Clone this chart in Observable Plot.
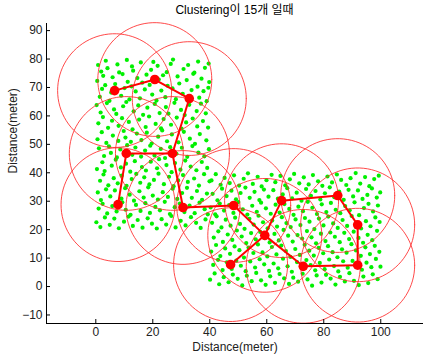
<!DOCTYPE html>
<html><head><meta charset="utf-8">
<script src="https://cdn.jsdelivr.net/npm/d3@7"></script>
<script src="https://cdn.jsdelivr.net/npm/@observablehq/plot@0.6"></script>
<style>
body{margin:0;background:#fff}
#c{position:relative;width:423px;height:358px}
#t{position:absolute;top:3px;left:46px;width:377px;text-align:center;font:12px "Liberation Sans","Noto Sans CJK KR",sans-serif;color:#000;line-height:14px}
#c svg{position:absolute;left:0;top:0}
</style>
</head><body><div id="c"><div id="t">Clustering이 15개 일때</div></div>
<script>
const chartTitle = "Clustering이 15개 일때";
const xLabel = "Distance(meter)";
const yLabel = "Distance(meter)";
const xTicks = [0, 20, 40, 60, 80, 100];
const yTicks = [-10, 0, 10, 20, 30, 40, 50, 60, 70, 80, 90];

// sensor nodes, upper-left field
const upperNodes = [
[0.8,77.9],[1.9,75.6],[3.5,79.4],[4.1,76.8],[7.6,78.1],[8.2,75.3],[10.9,79.7],[12.7,77.4],[13.1,75.9],[15.8,78.8],[19.4,76.2],[20.2,79.0],[21.7,77.6],[24.9,75.4],[26.3,78.3],[27.1,79.8],[30.8,76.5],[32.4,77.9],[34.6,75.2],[35.9,79.1],[38.3,76.9],[39.6,78.4],
[0.5,72.3],[2.6,74.1],[3.3,70.8],[5.9,73.6],[6.8,71.2],[9.4,74.7],[11.2,72.0],[12.5,70.4],[14.6,73.3],[16.3,71.7],[17.8,74.5],[18.9,70.9],[22.1,72.8],[23.6,74.3],[25.2,70.6],[28.7,73.9],[29.3,71.4],[31.9,72.6],[34.2,74.8],[35.7,70.3],[37.1,73.1],[39.8,71.9],
[1.4,66.7],[2.2,69.5],[4.8,65.3],[5.4,68.2],[8.9,67.1],[10.1,69.8],[11.8,65.8],[14.0,68.6],[15.5,66.2],[17.2,69.3],[19.8,67.5],[21.3,65.4],[23.0,68.9],[24.4,66.6],[26.9,69.7],[28.1,65.9],[30.5,67.8],[33.6,69.1],[36.3,66.4],[37.8,68.7],[38.9,65.2],[39.5,69.9],
[0.3,63.8],[1.7,61.2],[3.9,64.5],[6.4,62.3],[7.2,60.7],[9.6,63.4],[10.7,64.9],[13.3,61.6],[14.9,63.7],[16.6,60.4],[18.1,62.9],[20.7,64.2],[22.4,61.0],[24.6,63.1],[25.5,60.8],[27.6,64.6],[29.9,62.1],[31.2,60.3],[32.8,63.9],[35.4,61.7],[36.9,64.3],[38.6,60.9],
[0.9,57.4],[2.5,59.6],[4.3,55.8],[5.7,58.3],[8.0,56.5],[9.2,59.2],[11.6,57.9],[12.9,55.3],[15.2,58.7],[17.5,56.1],[18.7,59.8],[21.0,57.2],[22.9,55.6],[23.8,58.9],[26.4,56.9],[28.4,59.4],[30.1,55.5],[31.7,57.7],[34.0,59.1],[35.6,56.3],[37.6,58.2],[39.4,55.9],
[0.6,51.8],[2.1,54.3],[3.7,50.5],[6.0,53.1],[7.9,51.2],[9.8,54.7],[10.4,52.4],[12.3,50.9],[14.4,53.8],[16.0,51.5],[17.9,54.1],[19.6,50.3],[21.9,52.7],[23.3,54.9],[25.0,51.1],[26.7,53.5],[29.0,50.7],[30.9,54.4],[33.0,52.0],[34.8,50.2],[36.5,53.6],[38.8,51.4],
[1.1,48.6],[2.9,45.9],[4.6,49.3],[5.3,47.0],[7.4,45.4],[8.6,48.2],[11.0,49.7],[12.8,46.3],[13.9,48.9],[15.9,45.7],[17.3,47.8],[19.1,49.5],[20.6,46.1],[22.8,48.4],[24.3,45.2],[26.1,49.0],[28.3,46.7],[30.2,48.8],[32.1,45.6],[33.9,49.4],[36.0,47.1],[38.1,45.8],[39.7,48.3],
[0.4,41.3],[2.3,43.7],[3.1,40.6],[5.6,42.5],[7.0,44.6],[8.8,41.9],[10.6,43.2],[12.1,40.4],[13.7,44.1],[16.2,42.0],[17.6,40.8],[19.3,43.9],[21.5,41.6],[22.2,44.8],[24.8,42.7],[26.6,40.2],[27.8,43.4],[29.7,41.1],[31.4,44.3],[33.3,42.2],[35.3,40.9],[37.2,43.8],[39.1,41.7],
[1.5,37.2],[2.7,39.4],[4.4,35.6],[6.3,38.1],[7.7,36.3],[9.1,39.0],[10.8,35.4],[12.6,37.8],[14.2,39.6],[15.6,36.5],[17.0,38.4],[18.8,35.9],[20.4,37.5],[22.0,39.7],[23.9,36.0],[25.7,38.6],[27.3,35.3],[28.9,37.3],[30.6,39.2],[32.3,36.8],[34.5,38.0],[36.2,35.5],[38.0,39.5],[39.9,37.0],
[0.7,33.1],[1.8,30.4],[3.6,34.2],[5.1,31.7],[6.7,33.8],[9.0,30.9],[10.3,34.6],[11.9,32.3],[13.4,30.2],[15.3,33.5],[16.8,31.3],[18.4,34.9],[20.0,32.0],[21.8,30.6],[23.5,33.2],[25.3,31.5],[27.0,34.4],[28.6,30.8],[30.3,32.9],[32.0,34.7],[33.7,31.2],[35.5,33.6],[37.3,30.5],[39.0,32.7],
[1.0,27.4],[2.4,29.1],[4.0,25.7],[5.8,28.3],[7.3,26.4],[9.3,29.6],[10.5,27.0],[12.2,25.2],[14.1,28.7],[15.7,26.6],[17.4,29.3],[19.0,25.9],[20.9,28.0],[22.5,26.8],[24.2,29.8],[26.0,25.5],[27.7,27.9],[29.5,29.2],[31.1,26.2],[32.9,28.5],[34.7,25.8],[36.4,29.5],[38.2,27.2],[39.3,25.4],
[0.2,22.6],[1.6,20.9],[3.2,24.3],[4.9,21.7],[6.5,23.9],[8.1,20.5],[9.9,22.8],[11.5,24.6],[13.0,21.3],[14.7,23.4],[16.4,20.7],[18.2,24.0],[19.7,22.1],[21.4,20.4],[23.1,23.7],[24.7,21.8],[26.5,24.8],[28.0,20.8],[29.8,23.1],[31.5,21.5],[33.4,24.4],[35.2,22.4],[36.8,20.6],[38.5,23.6]
];

// sensor nodes, lower-right field
const lowerNodes = [
[40.6,37.3],[42.1,39.5],[43.8,35.8],[45.2,38.2],[47.0,36.4],[48.5,39.1],[50.3,35.5],[51.9,37.9],[53.4,39.8],[55.1,36.1],[56.8,38.6],[58.2,35.2],[59.9,37.4],[61.7,39.3],[63.0,36.7],[64.8,38.9],[66.5,35.6],[68.1,37.7],[69.6,39.6],[71.4,36.3],[73.0,38.4],[74.7,35.9],[76.2,39.2],[78.0,37.0],[79.5,35.4],[81.3,38.7],[82.9,36.6],[84.6,39.4],[86.1,37.5],[87.9,35.7],[89.4,38.1],[91.2,39.9],[92.8,36.2],[94.5,38.5],[96.0,35.3],[97.7,37.8],[99.3,39.0],
[41.0,32.6],[42.7,30.3],[44.3,34.4],[45.9,31.8],[47.6,33.7],[49.2,30.7],[50.8,32.9],[52.5,34.8],[54.0,31.2],[55.7,33.3],[57.4,30.4],[59.0,34.1],[60.6,31.6],[62.3,33.9],[63.9,30.9],[65.6,32.4],[67.2,34.6],[68.9,31.0],[70.5,33.0],[72.2,30.2],[73.8,34.3],[75.5,31.9],[77.1,33.6],[78.8,30.6],[80.4,32.8],[82.1,34.9],[83.7,31.4],[85.4,33.4],[87.0,30.5],[88.7,34.0],[90.3,31.7],[92.0,33.8],[93.6,30.8],[95.3,32.2],[96.9,34.5],[98.6,31.3],[99.8,33.1],
[40.3,27.8],[41.9,25.4],[43.5,29.2],[45.0,26.7],[46.8,28.6],[48.3,25.9],[50.0,29.7],[51.6,27.1],[53.2,25.3],[54.9,28.4],[56.5,26.3],[58.0,29.5],[59.7,27.5],[61.4,25.6],[63.1,28.8],[64.5,26.0],[66.2,29.0],[67.9,27.3],[69.4,25.2],[71.1,28.1],[72.7,26.5],[74.4,29.8],[76.0,27.7],[77.6,25.5],[79.3,28.9],[80.9,26.2],[82.5,29.4],[84.2,27.0],[85.8,25.8],[87.5,28.3],[89.1,26.8],[90.8,29.6],[92.4,25.1],[94.1,27.6],[95.7,29.1],[97.3,26.4],[99.0,28.5],
[40.8,22.4],[42.4,24.7],[44.1,20.8],[45.6,23.5],[47.3,21.4],[48.9,24.2],[50.6,22.0],[52.2,20.3],[53.9,23.8],[55.4,21.8],[57.1,24.9],[58.7,22.6],[60.3,20.5],[61.9,23.2],[63.6,21.1],[65.3,24.4],[66.9,22.3],[68.4,20.9],[70.1,23.6],[71.8,21.6],[73.4,24.1],[75.0,22.8],[76.7,20.2],[78.3,23.9],[79.9,21.5],[81.6,24.6],[83.3,22.2],[84.9,20.6],[86.6,23.4],[88.2,21.3],[89.8,24.8],[91.5,22.5],[93.1,20.4],[94.8,23.0],[96.4,21.2],[98.1,24.3],[99.6,22.7],
[41.4,17.2],[43.0,19.4],[44.6,15.7],[46.3,18.3],[47.9,16.4],[49.5,19.7],[51.2,17.6],[52.8,15.3],[54.5,18.8],[56.1,16.6],[57.7,19.2],[59.4,17.0],[61.0,15.5],[62.7,18.5],[64.2,16.2],[65.9,19.9],[67.5,17.9],[69.1,15.8],[70.8,18.1],[72.4,16.9],[74.1,19.5],[75.7,17.3],[77.3,15.2],[79.0,18.6],[80.6,16.0],[82.3,19.0],[83.9,17.5],[85.6,15.6],[87.2,18.9],[88.9,16.7],[90.5,19.3],[92.2,17.1],[93.8,15.4],[95.4,18.2],[97.0,16.3],[98.7,19.6],
[40.5,12.3],[42.2,14.6],[43.7,10.7],[45.4,13.4],[47.1,11.5],[48.7,14.1],[50.4,12.8],[52.0,10.2],[53.6,13.7],[55.3,11.8],[56.9,14.8],[58.5,12.0],[60.2,10.6],[61.8,13.9],[63.4,11.3],[65.1,14.4],[66.7,12.5],[68.3,10.4],[70.0,13.2],[71.6,11.1],[73.3,14.7],[74.9,12.6],[76.5,10.9],[78.2,13.6],[79.8,11.7],[81.5,14.2],[83.1,12.1],[84.8,10.3],[86.4,13.1],[88.0,11.9],[89.7,14.9],[91.3,12.7],[93.0,10.8],[94.6,13.8],[96.2,11.4],[97.9,14.3],[99.5,12.2],
[41.2,7.6],[42.9,9.4],[44.5,5.8],[46.0,8.5],[47.7,6.2],[49.3,9.1],[50.9,7.3],[52.6,5.4],[54.2,8.8],[55.9,6.7],[57.5,9.6],[59.1,7.8],[60.8,5.5],[62.4,8.1],[64.0,6.4],[65.7,9.8],[67.3,7.1],[68.8,5.2],[70.6,8.6],[72.1,6.9],[73.9,9.3],[75.4,7.5],[77.0,5.7],[78.6,8.3],[80.3,6.1],[81.9,9.5],[83.6,7.2],[85.1,5.3],[86.8,8.9],[88.4,6.6],[90.1,9.0],[91.7,7.7],[93.4,5.9],[95.0,8.4],[96.7,6.8],[98.3,9.7],[99.9,7.0],
[40.1,2.4],[41.7,4.6],[43.3,0.8],[44.9,3.3],[46.6,1.5],[48.1,4.2],[49.8,2.7],[51.4,0.4],[53.0,3.8],[54.7,1.9],[56.3,4.8],[58.0,2.2],[59.6,0.6],[61.2,3.6],[62.9,1.3],[64.5,4.4],[66.1,2.9],[67.8,0.9],[69.3,3.1],[71.0,1.7],[72.6,4.5],[74.3,2.5],[75.9,0.3],[77.5,3.9],[79.2,1.4],[80.8,4.1],[82.4,2.8],[84.1,0.7],[85.7,3.4],[87.4,1.8],[89.0,4.7],[90.6,2.0],[92.3,0.5],[93.9,3.5],[95.6,1.2],[97.2,4.3],[98.9,2.6]
];

// cluster heads
const headX = [6.6, 20.7, 32.8, 10.7, 26.9, 7.8, 30.6, 48.4, 65.2, 84.9, 91.9, 59.3, 47.3, 72.8, 91.9];
const headY = [68.9, 72.8, 66.1, 46.8, 46.8, 28.8, 27.8, 28.5, 30.2, 32.0, 21.7, 18.0, 7.7, 7.1, 7.5];
// links between heads (1-based)
const linkFrom = [1, 2, 3, 4, 4, 5, 7, 8, 12, 9, 10, 11, 15, 14, 12];
const linkTo   = [2, 3, 5, 5, 6, 7, 8, 12, 9, 10, 11, 15, 14, 12, 13];
const clusterRadius = 20;

const xDomain = [-17.3, 115];
const yDomain = [-13, 92.5];

const nodes = upperNodes.concat(lowerNodes);
const heads = headX.map((x, i) => ({x, y: headY[i], id: i}));
const links = linkFrom.map((a, i) => ({a: a - 1, b: linkTo[i] - 1}));
const ring = [];
heads.forEach(h => {
  for (let k = 0; k <= 90; k++) {
    const t = k / 90 * 2 * Math.PI;
    ring.push({id: h.id, x: h.x + clusterRadius * Math.cos(t), y: h.y + clusterRadius * Math.sin(t)});
  }
});

const font = "Liberation Sans, Arial, sans-serif";
const chart = Plot.plot({
  width: 423, height: 358,
  marginLeft: 46, marginRight: 0, marginTop: 23, marginBottom: 35,
  style: {fontFamily: font, fontSize: "12px", color: "#222", background: "transparent"},
  x: {domain: xDomain},
  y: {domain: yDomain},
  marks: [
    Plot.dot(nodes, {x: d => d[0], y: d => d[1], r: 2.1, fill: "#00f000"}),
    Plot.line(ring, {x: "x", y: "y", z: "id", stroke: "#ff2a2a", strokeWidth: 1, strokeOpacity: 0.85}),
    Plot.link(links, {x1: d => headX[d.a], y1: d => headY[d.a], x2: d => headX[d.b], y2: d => headY[d.b], stroke: "#ff0000", strokeWidth: 2}),
    Plot.dot(heads, {x: "x", y: "y", r: 4.8, fill: "#ff0000"}),
    Plot.ruleY([yDomain[0]], {stroke: "#000"}),
    Plot.ruleX([xDomain[0]], {stroke: "#000"}),
    Plot.axisX({ticks: xTicks, tickSize: -4, tickPadding: 8, label: null, fontSize: 12, stroke: "#000"}),
    Plot.axisY({ticks: yTicks, tickSize: -4, tickPadding: 8, label: null, fontSize: 12, stroke: "#000"}),
    Plot.text([xLabel], {frameAnchor: "bottom", dy: 27, fontSize: 12, fill: "#222"}),
    Plot.text([yLabel], {frameAnchor: "left", dx: -33, rotate: -90, fontSize: 12, fill: "#222"})
  ]
});
document.getElementById("c").appendChild(chart);
</script>
</body></html>
